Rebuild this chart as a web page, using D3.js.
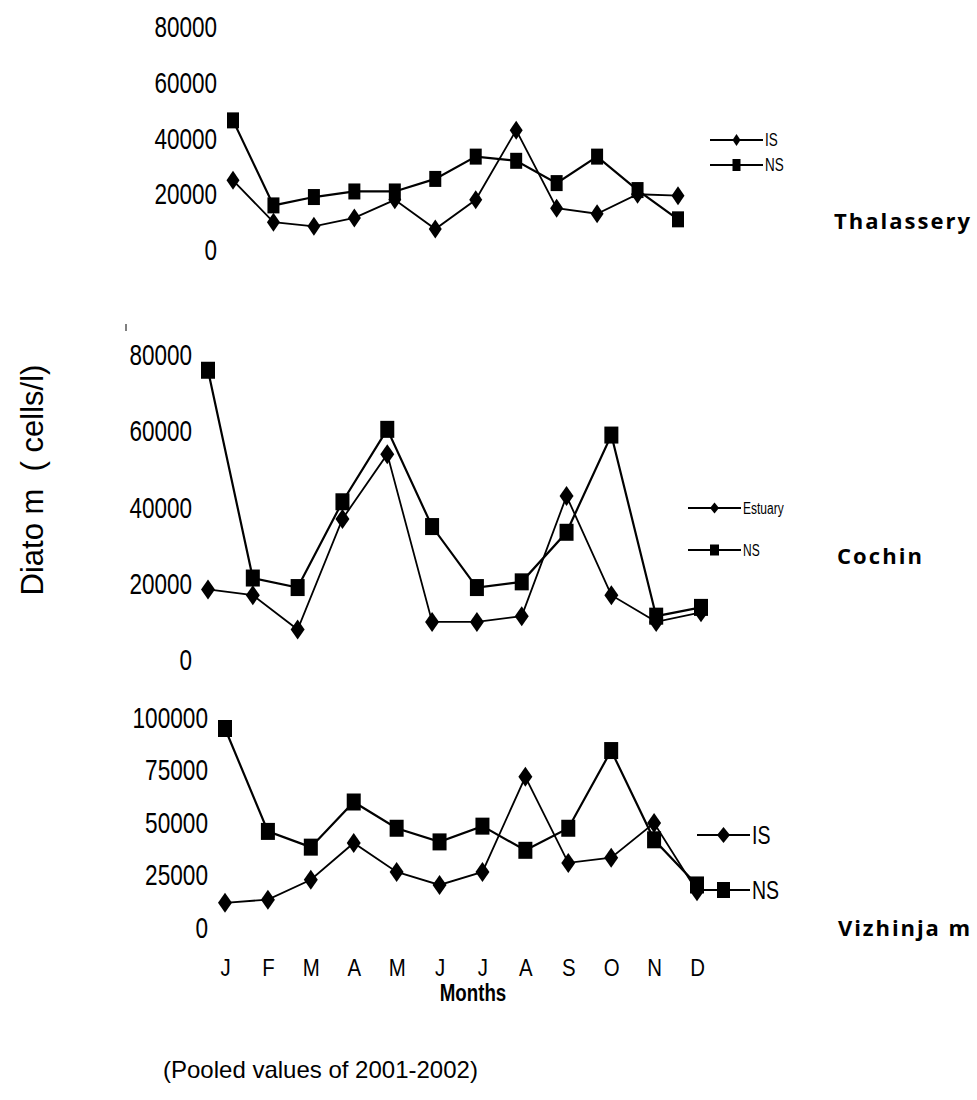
<!DOCTYPE html>
<html>
<head>
<meta charset="utf-8">
<script src="https://cdn.jsdelivr.net/npm/d3@7"></script>
<style>
  html, body { margin: 0; padding: 0; background: #fff; }
  svg { display: block; }
  text { fill: #000; }
</style>
</head>
<body>
<svg id="chart" width="977" height="1100"></svg>
<script>
// Monthly diatom counts (cells/l), pooled 2001-2002
const months = ["J", "F", "M", "A", "M", "J", "J", "A", "S", "O", "N", "D"];

const thalasseryIS = [25000, 10000, 8500, 11500, 18000, 7500, 18000, 43000, 15000, 13000, 20000, 19500];
const thalasseryNS = [46500, 16000, 19000, 21000, 21000, 25500, 33500, 32000, 24000, 33500, 21500, 11000];

const cochinEstuary = [18500, 17000, 8000, 37000, 54000, 10000, 10000, 11500, 43000, 17000, 10000, 12500];
const cochinNS = [76000, 21500, 19000, 41500, 60500, 35000, 19000, 20500, 33500, 59000, 11500, 13800];

const vizhinjamIS = [12000, 13500, 23000, 40500, 26700, 20500, 26700, 72000, 31000, 33500, 50000, 17500];
const vizhinjamNS = [95000, 46000, 38500, 60000, 47500, 41000, 48500, 37000, 47500, 84500, 42000, 20500];

const ticks80k = [0, 20000, 40000, 60000, 80000];
const ticks100k = [0, 25000, 50000, 75000, 100000];

const svg = d3.select("#chart");
const SANS = "'Liberation Sans', Arial, sans-serif";

// Panel layout
const panels = [
  {
    xRange: [233, 678], yRange: [250, 27], max: 80000, ticks: ticks80k, labelX: 217, tickFont: 30, tickScale: 0.75,
    series: [
      { name: "IS", values: thalasseryIS, marker: "diamond" },
      { name: "NS", values: thalasseryNS, marker: "square" }
    ],
    mark: { sq: [12, 16], dm: [13, 19] },
    legend: { x1: 710, x2: 763, ys: [140, 165], font: 18, mw: 8, mh: 12 },
    station: { text: "Thalassery", x: 834, y: 229, len: 136 }
  },
  {
    xRange: [208, 701], yRange: [660, 355], max: 80000, ticks: ticks80k, labelX: 192, tickFont: 30, tickScale: 0.75,
    series: [
      { name: "Estuary", values: cochinEstuary, marker: "diamond" },
      { name: "NS", values: cochinNS, marker: "square" }
    ],
    mark: { sq: [14, 17], dm: [14, 20] },
    legend: { x1: 688, x2: 741, ys: [508, 550], font: 16, mw: 9, mh: 11 },
    station: { text: "Cochin", x: 837, y: 564, len: 85 }
  },
  {
    xRange: [225, 697], yRange: [928, 718], max: 100000, ticks: ticks100k, labelX: 208, tickFont: 29, tickScale: 0.78,
    series: [
      { name: "IS", values: vizhinjamIS, marker: "diamond" },
      { name: "NS", values: vizhinjamNS, marker: "square" }
    ],
    mark: { sq: [14, 17], dm: [14, 20] },
    legend: { x1: 697, x2: 750, ys: [835, 890], font: 26, mw: 13, mh: 16 },
    station: { text: "Vizhinja m", x: 838, y: 936, len: 132 }
  }
];

function diamondPath(w, h) {
  return `M0,${-h / 2}L${w / 2},0L0,${h / 2}L${-w / 2},0Z`;
}

function drawMarker(g, type, cx, cy, w, h) {
  if (type === "square") {
    g.append("rect")
      .attr("x", cx - w / 2).attr("y", cy - h / 2)
      .attr("width", w).attr("height", h)
      .attr("fill", "#000");
  } else {
    g.append("path")
      .attr("d", diamondPath(w, h))
      .attr("transform", `translate(${cx},${cy})`)
      .attr("fill", "#000");
  }
}

let bottomX = null;

panels.forEach(p => {
  const x = d3.scalePoint().domain(d3.range(months.length)).range(p.xRange);
  const y = d3.scaleLinear().domain([0, p.max]).range(p.yRange);
  bottomX = x;

  // value axis: labels only, condensed
  const yAxis = d3.axisLeft(y).tickValues(p.ticks).tickSize(0).tickPadding(0).tickFormat(d3.format("d"));
  const ga = svg.append("g").attr("transform", `translate(${p.labelX},0)`).call(yAxis);
  ga.select(".domain").remove();
  ga.selectAll("text")
    .attr("x", 0)
    .attr("transform", `scale(${p.tickScale},1)`)
    .style("font-family", SANS)
    .style("font-size", p.tickFont + "px");

  const line = d3.line().x((d, i) => x(i)).y(d => y(d));
  const g = svg.append("g");
  p.series.forEach(s => {
    g.append("path")
      .attr("d", line(s.values))
      .attr("fill", "none")
      .attr("stroke", "#000")
      .attr("stroke-width", s.marker === "square" ? 2.2 : 1.8);
  });
  p.series.forEach(s => {
    const [w, h] = s.marker === "square" ? p.mark.sq : p.mark.dm;
    s.values.forEach((v, i) => drawMarker(g, s.marker, x(i), y(v), w, h));
  });

  // legend
  const lg = svg.append("g");
  p.series.forEach((s, k) => {
    const ly = p.legend.ys[k];
    lg.append("line")
      .attr("x1", p.legend.x1).attr("x2", p.legend.x2)
      .attr("y1", ly).attr("y2", ly)
      .attr("stroke", "#000").attr("stroke-width", 2);
    const mx = (p.legend.x1 + p.legend.x2) / 2;
    drawMarker(lg, s.marker, mx, ly, p.legend.mw, p.legend.mh);
    lg.append("text")
      .attr("transform", `translate(${p.legend.x2 + 2},${ly}) scale(0.75,1)`)
      .attr("dy", "0.36em")
      .style("font-family", SANS)
      .style("font-size", p.legend.font + "px")
      .text(s.name);
  });

  // station name
  svg.append("text")
    .attr("x", p.station.x).attr("y", p.station.y)
    .attr("textLength", p.station.len)
    .attr("lengthAdjust", "spacing")
    .style("font-family", "'Open Sans', 'DejaVu Sans', sans-serif")
    .style("font-weight", "bold")
    .style("font-size", "22px")
    .text(p.station.text);
});

// month axis under the last panel
const xAxis = d3.axisBottom(bottomX).tickSize(0).tickPadding(0).tickFormat(i => months[i]);
const gx = svg.append("g").attr("transform", "translate(0,959)").call(xAxis);
gx.select(".domain").remove();
gx.selectAll("text")
  .attr("x", 0)
  .attr("y", 0)
  .attr("dy", "0.71em")
  .attr("transform", "scale(0.85,1)")
  .style("font-family", SANS)
  .style("font-size", "24px");

// axis titles
svg.append("text")
  .attr("transform", "translate(473,1001) scale(0.78,1)")
  .attr("text-anchor", "middle")
  .style("font-family", SANS)
  .style("font-weight", "bold")
  .style("font-size", "24px")
  .text("Months");

svg.append("text")
  .attr("transform", "translate(43,480) rotate(-90)")
  .attr("text-anchor", "middle")
  .style("font-family", SANS)
  .style("font-size", "31px")
  .style("white-space", "pre")
  .text("Diato m  ( cells/l)");

// stray tick near the middle panel
svg.append("line")
  .attr("x1", 126).attr("x2", 126).attr("y1", 324).attr("y2", 331)
  .attr("stroke", "#000").attr("stroke-width", 1);

svg.append("text")
  .attr("x", 163).attr("y", 1078)
  .style("font-family", SANS)
  .style("font-size", "24px")
  .text("(Pooled values of 2001-2002)");
</script>
</body>
</html>
